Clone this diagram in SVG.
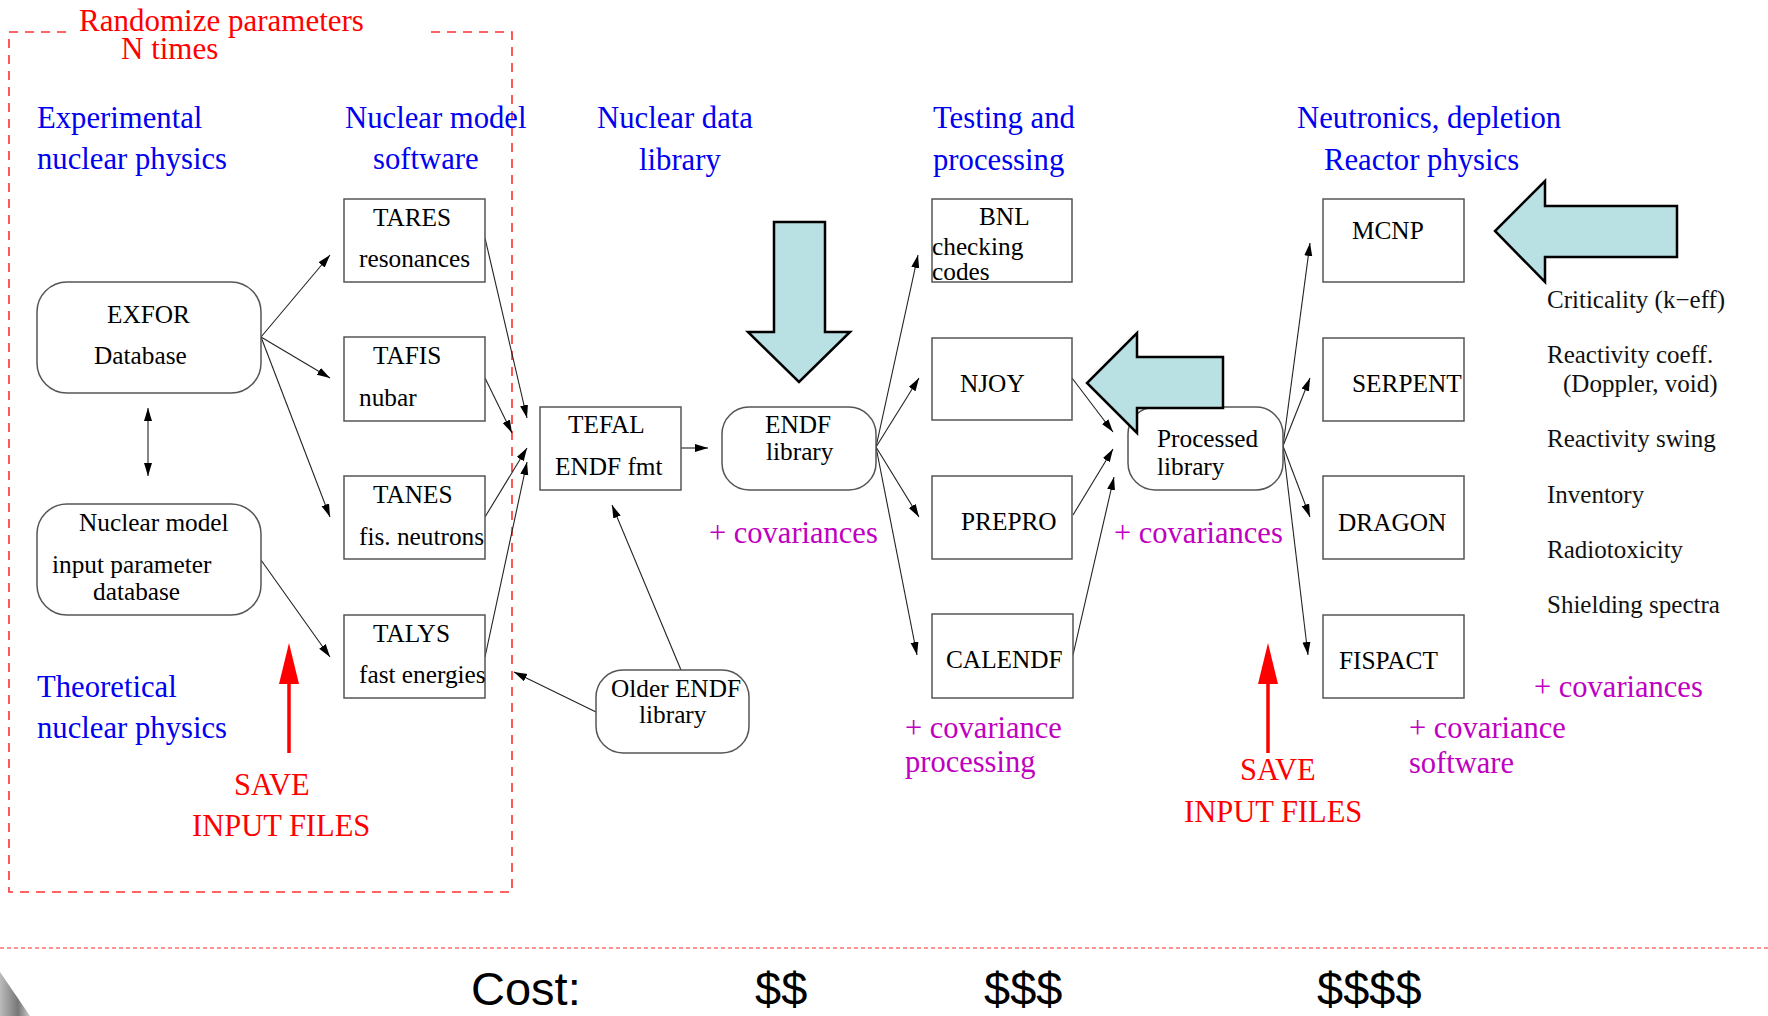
<svg xmlns="http://www.w3.org/2000/svg" width="1768" height="1016" viewBox="0 0 1768 1016">
<style>
text{font-family:"Liberation Serif","Times New Roman",serif;}
.hd{font-size:30.7px;fill:#0000f0;}
.bx{font-size:25.3px;fill:#000;}
.rt{font-size:25px;fill:#111;}
.mg{font-size:30.5px;fill:#c000c0;}
.rd{font-size:30.5px;fill:#ff0000;}
.cost{font-family:"Liberation Sans",Arial,sans-serif;font-size:47px;fill:#000;}
.box{fill:#fff;stroke:#555;stroke-width:1.5;}
.con{stroke:#222;stroke-width:1.1;fill:none;marker-end:url(#ah);}
.big{fill:#b9e0e3;stroke:#000;stroke-width:2.5;}
</style>
<defs>
<marker id="ah" markerUnits="userSpaceOnUse" markerWidth="14" markerHeight="10" refX="13" refY="4" orient="auto">
<path d="M0,0 L13,4 L0,8 Z" fill="#000"/>
</marker>
<marker id="ahs" markerUnits="userSpaceOnUse" markerWidth="14" markerHeight="10" refX="0" refY="4" orient="auto">
<path d="M13,0 L0,4 L13,8 Z" fill="#000"/>
</marker>
<linearGradient id="curl" x1="0" y1="0" x2="1" y2="0">
<stop offset="0" stop-color="#bbb"/>
<stop offset="0.6" stop-color="#777"/>
<stop offset="1" stop-color="#ccc"/>
</linearGradient>
</defs>
<rect width="1768" height="1016" fill="#fff"/>

<!-- randomize dashed region -->
<g id="randomize-region" fill="none" stroke="#ff3030" stroke-width="1.6" stroke-dasharray="9,7">
<path d="M66,32 L9,32 L9,892 L512,892 L512,32 L428,32"/>
</g>
<text x="79" y="31" class="rd" style="font-size:31px">Randomize parameters</text>
<text x="121" y="59" class="rd" style="font-size:31px">N times</text>

<!-- headers -->
<g id="headers">
<text x="37" y="128" class="hd">Experimental</text>
<text x="37" y="169" class="hd">nuclear physics</text>
<text x="345" y="128" class="hd">Nuclear model</text>
<text x="373" y="169" class="hd">software</text>
<text x="597" y="128" class="hd">Nuclear data</text>
<text x="639" y="170" class="hd">library</text>
<text x="933" y="128" class="hd">Testing and</text>
<text x="933" y="170" class="hd">processing</text>
<text x="1297" y="128" class="hd">Neutronics, depletion</text>
<text x="1324" y="170" class="hd">Reactor physics</text>
<text x="37" y="697" class="hd">Theoretical</text>
<text x="37" y="738" class="hd">nuclear physics</text>
</g>

<!-- connectors -->
<g id="connectors">
<line class="con" x1="261" y1="337" x2="330" y2="255"/>
<line class="con" x1="261" y1="337" x2="330" y2="378"/>
<line class="con" x1="261" y1="337" x2="330" y2="517"/>
<line class="con" x1="261" y1="560" x2="330" y2="657"/>
<line class="con" x1="148" y1="408" x2="148" y2="476" style="marker-start:url(#ahs)"/>
<line class="con" x1="485" y1="238" x2="527" y2="418"/>
<line class="con" x1="485" y1="378" x2="512" y2="433"/>
<line class="con" x1="485" y1="517" x2="527" y2="448"/>
<line class="con" x1="485" y1="657" x2="527" y2="462"/>
<line class="con" x1="681" y1="448" x2="708" y2="448"/>
<line class="con" x1="681" y1="670" x2="612" y2="505"/>
<line class="con" x1="596" y1="712" x2="514" y2="672"/>
<line class="con" x1="876" y1="447" x2="918" y2="255"/>
<line class="con" x1="876" y1="447" x2="919" y2="378"/>
<line class="con" x1="876" y1="447" x2="919" y2="517"/>
<line class="con" x1="876" y1="447" x2="917" y2="655"/>
<line class="con" x1="1072" y1="378" x2="1113" y2="432"/>
<line class="con" x1="1073" y1="515" x2="1113" y2="449"/>
<line class="con" x1="1073" y1="655" x2="1114" y2="477"/>
<line class="con" x1="1283" y1="446" x2="1310" y2="243"/>
<line class="con" x1="1283" y1="446" x2="1310" y2="378"/>
<line class="con" x1="1283" y1="446" x2="1310" y2="517"/>
<line class="con" x1="1283" y1="446" x2="1308" y2="655"/>
</g>

<!-- nodes -->
<g id="exfor"><rect class="box" x="37" y="282" width="224" height="111" rx="30"/>
<text x="107" y="323" class="bx">EXFOR</text><text x="94" y="364" class="bx">Database</text></g>
<g id="nm-db"><rect class="box" x="37" y="504" width="224" height="111" rx="30"/>
<text x="79" y="531" class="bx">Nuclear model</text><text x="52" y="573" class="bx">input parameter</text><text x="93" y="600" class="bx">database</text></g>
<g id="tares"><rect class="box" x="344" y="199" width="141" height="83"/>
<text x="373" y="226" class="bx">TARES</text><text x="359" y="267" class="bx">resonances</text></g>
<g id="tafis"><rect class="box" x="344" y="337" width="141" height="84"/>
<text x="373" y="364" class="bx">TAFIS</text><text x="359" y="406" class="bx">nubar</text></g>
<g id="tanes"><rect class="box" x="344" y="476" width="141" height="83"/>
<text x="373" y="503" class="bx">TANES</text><text x="359" y="545" class="bx">fis. neutrons</text></g>
<g id="talys"><rect class="box" x="344" y="615" width="141" height="83"/>
<text x="373" y="642" class="bx">TALYS</text><text x="359" y="683" class="bx">fast energies</text></g>
<g id="tefal"><rect class="box" x="540" y="407" width="141" height="83"/>
<text x="568" y="433" class="bx">TEFAL</text><text x="555" y="475" class="bx">ENDF fmt</text></g>
<g id="endf-lib"><rect class="box" x="722" y="407" width="154" height="83" rx="27"/>
<text x="765" y="433" class="bx">ENDF</text><text x="766" y="460" class="bx">library</text></g>
<g id="older-endf"><rect class="box" x="596" y="670" width="153" height="83" rx="27"/>
<text x="611" y="697" class="bx">Older ENDF</text><text x="639" y="723" class="bx">library</text></g>
<g id="bnl"><rect class="box" x="932" y="199" width="140" height="83"/>
<text x="979" y="225" class="bx">BNL</text><text x="932" y="255" class="bx">checking</text><text x="932" y="280" class="bx">codes</text></g>
<g id="njoy"><rect class="box" x="932" y="338" width="140" height="82"/>
<text x="960" y="392" class="bx">NJOY</text></g>
<g id="prepro"><rect class="box" x="932" y="476" width="140" height="83"/>
<text x="961" y="530" class="bx">PREPRO</text></g>
<g id="calendf"><rect class="box" x="932" y="614" width="141" height="84"/>
<text x="946" y="668" class="bx">CALENDF</text></g>
<g id="processed"><rect class="box" x="1128" y="407" width="155" height="83" rx="27"/>
<text x="1157" y="447" class="bx">Processed</text><text x="1157" y="475" class="bx">library</text></g>
<g id="mcnp"><rect class="box" x="1323" y="199" width="141" height="83"/>
<text x="1352" y="239" class="bx">MCNP</text></g>
<g id="serpent"><rect class="box" x="1323" y="338" width="141" height="83"/>
<text x="1352" y="392" class="bx">SERPENT</text></g>
<g id="dragon"><rect class="box" x="1323" y="476" width="141" height="83"/>
<text x="1338" y="531" class="bx">DRAGON</text></g>
<g id="fispact"><rect class="box" x="1323" y="615" width="141" height="83"/>
<text x="1339" y="669" class="bx">FISPACT</text></g>

<!-- big arrows -->
<g id="big-arrow-down"><polygon class="big" points="774,222 825,222 825,332 850,332 799,382 748,332 774,332"/></g>
<g id="big-arrow-left-mid"><polygon class="big" points="1223,357 1223,408 1137,408 1137,433 1087,383 1137,333 1137,357"/></g>
<g id="big-arrow-left-top"><polygon class="big" points="1677,206 1677,257 1545,257 1545,282 1495,231 1545,181 1545,206"/></g>

<!-- red save arrows -->
<g id="save-arrow-left">
<line x1="289" y1="753" x2="289" y2="680" stroke="#ff0000" stroke-width="3.5"/>
<polygon points="279,684 299,684 289,643" fill="#ff0000"/>
</g>
<g id="save-arrow-right">
<line x1="1268" y1="753" x2="1268" y2="680" stroke="#ff0000" stroke-width="3.5"/>
<polygon points="1258,684 1278,684 1268,643" fill="#ff0000"/>
</g>
<text x="234" y="795" class="rd">SAVE</text>
<text x="192" y="836" class="rd">INPUT FILES</text>
<text x="1240" y="780" class="rd">SAVE</text>
<text x="1184" y="822" class="rd">INPUT FILES</text>

<!-- magenta notes -->
<text x="709" y="543" class="mg">+ covariances</text>
<text x="1114" y="543" class="mg">+ covariances</text>
<text x="905" y="738" class="mg">+ covariance</text>
<text x="905" y="772" class="mg">processing</text>
<text x="1534" y="697" class="mg">+ covariances</text>
<text x="1409" y="738" class="mg">+ covariance</text>
<text x="1409" y="773" class="mg">software</text>

<!-- outputs -->
<g id="outputs">
<text x="1547" y="308" class="rt">Criticality (k−eff)</text>
<text x="1547" y="363" class="rt">Reactivity coeff.</text>
<text x="1563" y="392" class="rt">(Doppler, void)</text>
<text x="1547" y="447" class="rt">Reactivity swing</text>
<text x="1547" y="503" class="rt">Inventory</text>
<text x="1547" y="558" class="rt">Radiotoxicity</text>
<text x="1547" y="613" class="rt">Shielding spectra</text>
</g>

<!-- cost row -->
<line x1="0" y1="948" x2="1768" y2="948" stroke="#ff7070" stroke-width="1.5" stroke-dasharray="4,3"/>
<text x="471" y="1005" class="cost">Cost:</text>
<text x="755" y="1005" class="cost">$$</text>
<text x="984" y="1005" class="cost">$$$</text>
<text x="1317" y="1005" class="cost">$$$$</text>
<polygon points="0,972 30,1016 0,1016" fill="url(#curl)"/>
</svg>
